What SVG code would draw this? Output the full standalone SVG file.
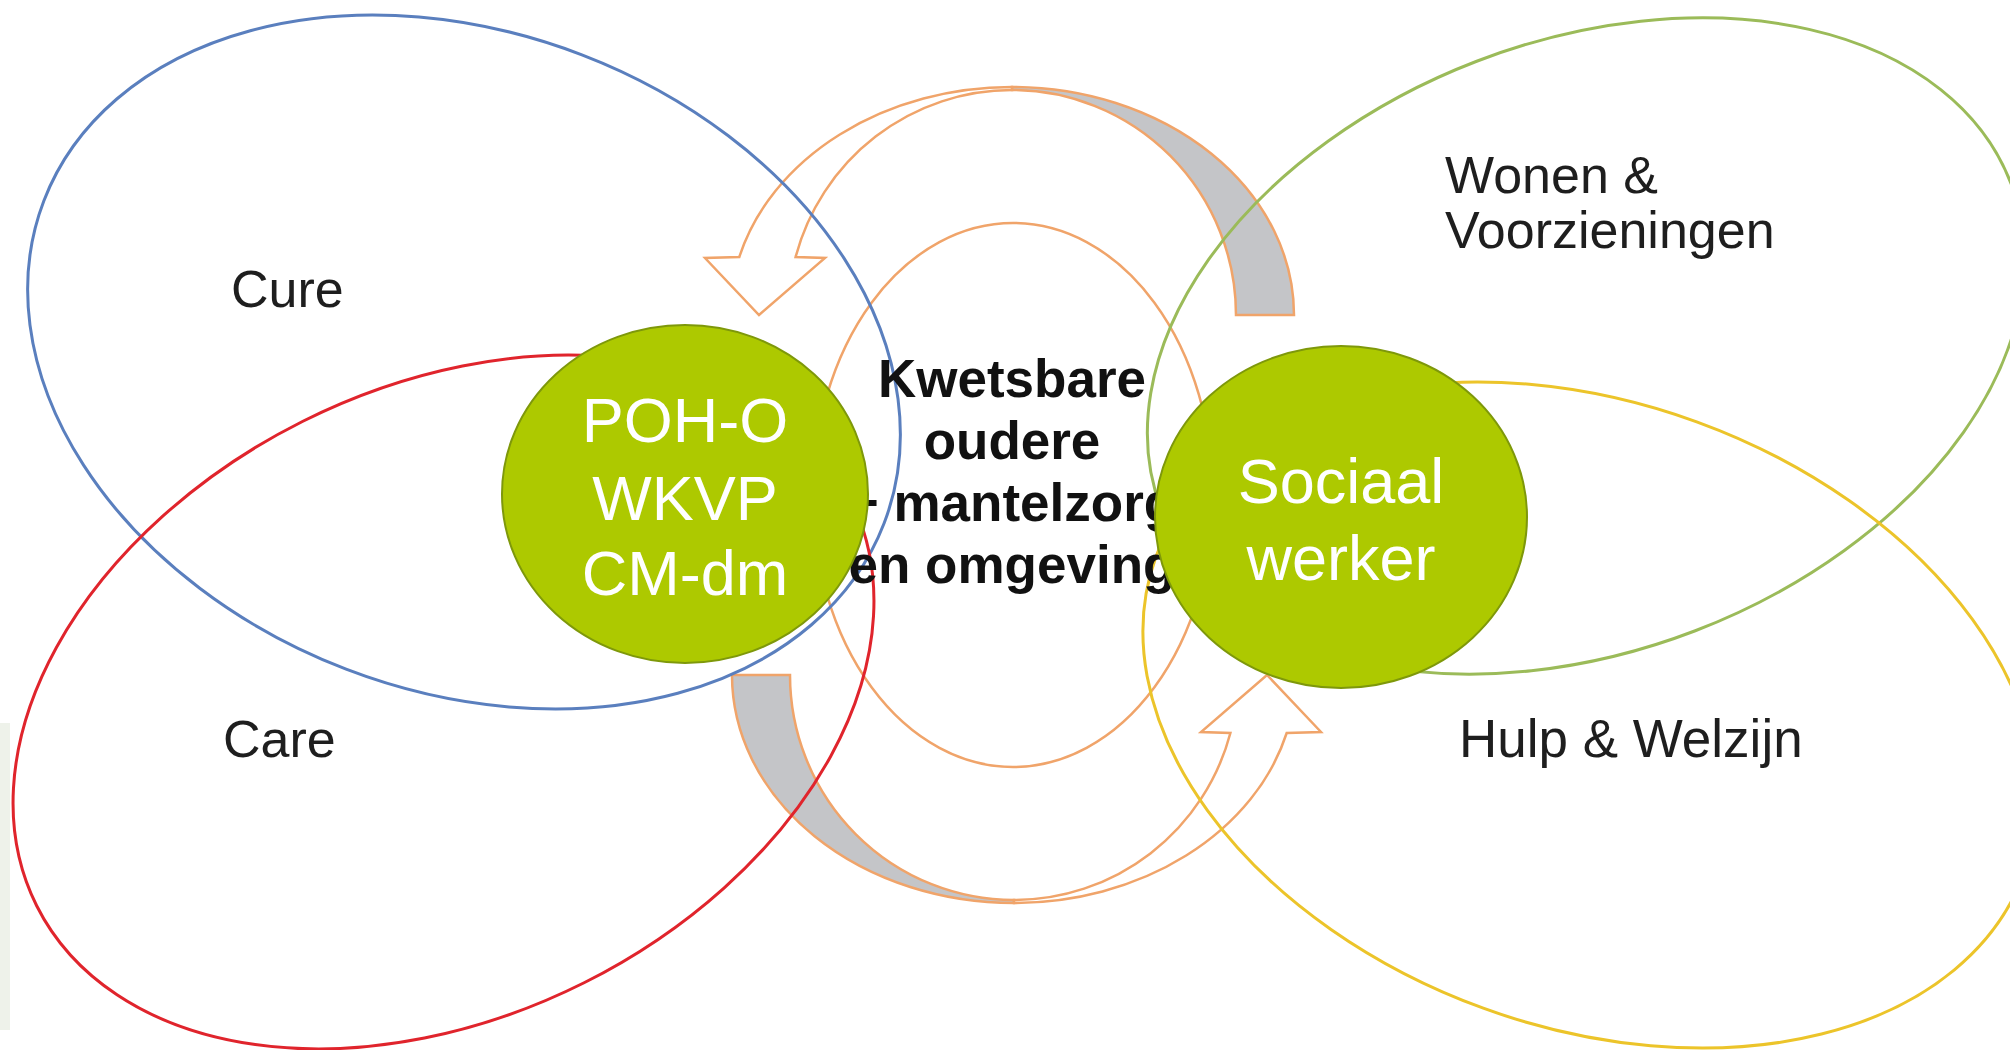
<svg xmlns="http://www.w3.org/2000/svg" width="2010" height="1050" viewBox="0 0 2010 1050">
  <style>
    .ring{fill:none;stroke-width:3}
    .lbl{font-family:"Liberation Sans",Arial,sans-serif;font-size:52px;fill:#1e1e1e}
    .mid{font-family:"Liberation Sans",Arial,sans-serif;font-size:53px;font-weight:bold;fill:#111;text-anchor:middle}
    .node{fill:#adc900;stroke:#7e980a;stroke-width:2}
    .ntxt{font-family:"Liberation Sans",Arial,sans-serif;font-size:63px;fill:#fff;text-anchor:middle}
    .arw{stroke:#f0a46a;stroke-width:2.5;stroke-linejoin:miter}
    .band{fill:#fff}
    .shade{fill:#c4c5c8}
  </style>
  <defs>
    <g id="curvedArrow">
      <path class="arw shade" d="M 1012 87 A 282 228 0 0 1 1294 315 L 1236 315 A 224 225 0 0 0 1012 90 Z"/>
      <path class="arw band" d="M 1012 87 A 282 228 0 0 0 739.3 257 L 705 258 L 759 315 L 825 258 L 795.6 257 A 224 225 0 0 1 1012 90 Z"/>
    </g>
  </defs>
  <rect x="0" y="0" width="2010" height="1050" fill="#fff"/>
  <rect x="0" y="723" width="10" height="307" fill="#eef2ea"/>

  <g id="connectors">
    <use href="#curvedArrow"/>
    <use href="#curvedArrow" transform="rotate(180 1013 495)"/>
  </g>

  <g id="centre">
    <ellipse cx="1013" cy="495" rx="200" ry="272" fill="none" stroke="#f0a46a" stroke-width="2.5"/>
  </g>

  <g id="cure">
    <ellipse class="ring" cx="464" cy="362" rx="450" ry="329" transform="rotate(21 464 362)" stroke="#5a7fbe"/>
    <text class="lbl" x="231" y="307">Cure</text>
  </g>
  <g id="care">
    <ellipse class="ring" cx="443.5" cy="702" rx="455" ry="314" transform="rotate(-26.6 443.5 702)" stroke="#e0242c"/>
    <text class="lbl" x="223" y="757">Care</text>
  </g>
  <g id="wonen">
    <ellipse class="ring" cx="1586" cy="346" rx="455" ry="305" transform="rotate(-21 1586 346)" stroke="#9bbb59"/>
    <text class="lbl" x="1445" y="193">Wonen &amp;</text>
    <text class="lbl" x="1445" y="248">Voorzieningen</text>
  </g>
  <g id="hulp">
    <ellipse class="ring" cx="1590" cy="715" rx="462" ry="312" transform="rotate(20 1590 715)" stroke="#ecc42a"/>
    <text class="lbl" x="1459" y="757" style="font-size:53px">Hulp &amp; Welzijn</text>
  </g>

  <g id="kwetsbare">
    <text class="mid" x="1012" y="397">Kwetsbare</text>
    <text class="mid" x="1012" y="459">oudere</text>
    <text class="mid" x="1012" y="521">+ mantelzorg</text>
    <text class="mid" x="1012" y="583">en omgeving</text>
  </g>

  <g id="poh">
    <ellipse class="node" cx="685" cy="494" rx="183" ry="169"/>
    <text class="ntxt" x="685" y="442">POH-O</text>
    <text class="ntxt" x="685" y="520">WKVP</text>
    <text class="ntxt" x="685" y="595">CM-dm</text>
  </g>
  <g id="sociaal">
    <ellipse class="node" cx="1341" cy="517" rx="186" ry="171"/>
    <text class="ntxt" x="1341" y="503">Sociaal</text>
    <text class="ntxt" x="1341" y="580">werker</text>
  </g>
</svg>
